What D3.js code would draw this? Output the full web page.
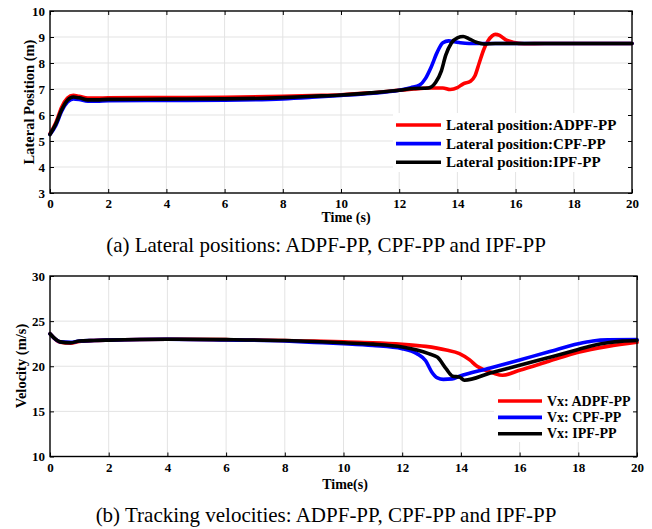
<!DOCTYPE html>
<html><head><meta charset="utf-8">
<script src="https://cdn.jsdelivr.net/npm/d3@7"></script>
<style>
body{margin:0;background:#fff;}
svg{display:block;}
text{font-family:"Liberation Serif","Times New Roman",serif;}
</style></head>
<body><svg id="c" width="652" height="529"></svg>
<script>
// ---------- DATA ----------
const xTicks = [0,2,4,6,8,10,12,14,16,18,20];
const latTicks = [3,4,5,6,7,8,9,10];
const velTicks = [10,15,20,25,30];

const seriesNames = ["ADPF-PP","CPF-PP","IPF-PP"];
const seriesColors = ["#ff0000","#0000ff","#000000"];

// Lateral position (m)
const latT_ADPF = [0,0.2,0.4,0.6,0.8,1.0,1.3,1.6,2,4,6,8,9,10,11,12,12.5,13,13.5,13.75,14,14.2,14.45,14.6,14.75,14.9,15.05,15.2,15.3,15.45,15.65,15.9,16.3,17,20];
const latV_ADPF = [5.28,5.7,6.3,6.65,6.76,6.72,6.65,6.65,6.66,6.67,6.68,6.72,6.75,6.78,6.85,6.95,7.0,7.04,7.04,6.98,7.05,7.2,7.3,7.5,8.0,8.5,8.85,9.05,9.1,9.06,8.9,8.8,8.74,8.75,8.75];
const latT_CPF = [0,0.2,0.4,0.6,0.8,1.0,1.3,1.6,2,4,6,8,9,10,11,12,12.4,12.7,12.9,13.1,13.3,13.5,13.7,13.9,14.1,14.4,15,20];
const latV_CPF = [5.25,5.6,6.15,6.5,6.62,6.6,6.53,6.53,6.55,6.56,6.57,6.62,6.68,6.75,6.83,6.95,7.05,7.15,7.4,7.85,8.4,8.78,8.85,8.82,8.78,8.75,8.75,8.75];
const latT_IPF = [0,0.2,0.4,0.6,0.8,1.0,1.3,1.6,2,4,6,8,9,10,11,12,12.5,13.0,13.25,13.45,13.6,13.8,14.0,14.2,14.4,14.65,14.9,15.3,20];
const latV_IPF = [5.25,5.65,6.2,6.57,6.69,6.66,6.58,6.58,6.6,6.61,6.62,6.67,6.72,6.77,6.85,6.95,7.02,7.04,7.25,7.7,8.3,8.78,8.97,9.02,8.93,8.8,8.73,8.75,8.75];

// Velocity Vx (m/s)
const velT_ADPF = [0,0.35,0.7,1.0,1.5,2,4,6,8,9,10,10.5,11,12,12.8,13.5,13.95,14.3,14.55,14.8,15.1,15.42,16,17,18,19,20];
const velV_ADPF = [23.6,22.65,22.55,22.75,22.85,22.9,23.0,22.95,22.85,22.78,22.7,22.65,22.6,22.43,22.2,21.8,21.4,20.7,20.0,19.6,19.25,19.0,19.55,20.55,21.55,22.2,22.65];
const velT_CPF = [0,0.35,0.7,1.0,1.5,2,4,6,8,9,10,11,12,12.5,12.8,13.0,13.2,13.4,13.7,13.95,15,16,17,18,18.5,19,20];
const velV_CPF = [23.6,22.7,22.65,22.8,22.85,22.9,23.0,22.92,22.8,22.65,22.5,22.3,21.95,21.4,20.6,19.4,18.7,18.55,18.6,18.9,19.8,20.7,21.6,22.5,22.8,22.92,22.95];
const velT_IPF = [0,0.35,0.7,1.0,1.5,2,4,6,8,9,10,11,12,12.5,12.9,13.2,13.5,13.72,13.95,14.12,15,16,17,18,18.5,19,19.5,20];
const velV_IPF = [23.6,22.7,22.6,22.8,22.85,22.9,23.0,22.95,22.85,22.75,22.6,22.45,22.14,21.8,21.4,21.0,19.7,18.9,18.8,18.45,19.25,20.1,20.97,21.85,22.3,22.6,22.78,22.85];

const latLabels = ["Lateral position:ADPF-PP","Lateral position:CPF-PP","Lateral position:IPF-PP"];
const velLabels = ["Vx: ADPF-PP","Vx: CPF-PP","Vx: IPF-PP"];

// ---------- DRAW ----------
const svg = d3.select("#c");
const zip = (t,v)=>t.map((d,i)=>[d,v[i]]);

function panel(o){
  const x = d3.scaleLinear().domain([0,20]).range([o.left,o.right]);
  const y = d3.scaleLinear().domain(o.ydom).range([o.bottom,o.top]);
  const g = svg.append("g");
  // grid
  g.append("g").selectAll("line").data(xTicks.slice(1,-1)).join("line")
    .attr("x1",d=>x(d)).attr("x2",d=>x(d)).attr("y1",o.top).attr("y2",o.bottom)
    .attr("stroke","#e3e3e3").attr("stroke-width",1);
  g.append("g").selectAll("line").data(o.yticks.slice(1,-1)).join("line")
    .attr("y1",d=>y(d)).attr("y2",d=>y(d)).attr("x1",o.left).attr("x2",o.right)
    .attr("stroke","#e3e3e3").attr("stroke-width",1);
  // lines
  const line = d3.line().x(d=>x(d[0])).y(d=>y(d[1])).curve(d3.curveMonotoneX);
  o.series.forEach((s,i)=>{
    g.append("path").datum(s).attr("d",line).attr("fill","none")
      .attr("stroke",seriesColors[i]).attr("stroke-width",3.6)
      .attr("stroke-linejoin","round").attr("stroke-linecap","round");
  });
  // legend
  const lg = g.append("g");
  lg.append("rect").attr("x",o.lg.x0).attr("y",o.lg.y0).attr("width",o.right-1-o.lg.x0)
    .attr("height",o.lg.y1-o.lg.y0).attr("fill","#fff");
  o.labels.forEach((lab,i)=>{
    const yy = o.lg.ly + i*o.lg.dy;
    lg.append("line").attr("x1",o.lg.lx0).attr("x2",o.lg.lx1).attr("y1",yy).attr("y2",yy)
      .attr("stroke",seriesColors[i]).attr("stroke-width",3.6);
    lg.append("text").attr("x",o.lg.tx).attr("y",yy+o.lg.fs*0.33)
      .attr("font-size",o.lg.fs).attr("font-weight","bold").text(lab);
  });
  // axes
  const ax = (gen, tr, showLabels)=>{
    const a = g.append("g").attr("transform",tr).call(gen);
    a.select(".domain").remove();
    a.selectAll(".tick line").attr("stroke","#000").attr("stroke-width",1);
    a.selectAll("text").attr("font-size",13).attr("font-weight","bold")
      .attr("font-family",'"Liberation Serif",serif').attr("fill","#000");
    if(!showLabels) a.selectAll("text").remove();
    return a;
  };
  ax(d3.axisBottom(x).tickValues(xTicks).tickSize(-4).tickPadding(6).tickFormat(d3.format("d")),`translate(0,${o.bottom})`,true);
  ax(d3.axisTop(x).tickValues(xTicks).tickSize(-4),`translate(0,${o.top})`,false);
  ax(d3.axisLeft(y).tickValues(o.yticks).tickSize(-4).tickPadding(5).tickFormat(d3.format("d")),`translate(${o.left},0)`,true);
  ax(d3.axisRight(y).tickValues(o.yticks).tickSize(-4),`translate(${o.right},0)`,false);
  g.append("rect").attr("x",o.left).attr("y",o.top).attr("width",o.right-o.left).attr("height",o.bottom-o.top)
    .attr("fill","none").attr("stroke","#000").attr("stroke-width",1.4);
  // labels
  g.append("text").attr("x",o.xlab.x).attr("y",o.xlab.y).attr("text-anchor","middle")
    .attr("font-size",14).attr("font-weight","bold").text(o.xlab.t);
  g.append("text").attr("transform",`translate(${o.ylab.x},${o.ylab.y}) rotate(-90)`).attr("text-anchor","middle")
    .attr("font-size",14.5).attr("font-weight","bold").text(o.ylab.t);
  g.append("text").attr("x",326).attr("y",o.cap.y).attr("text-anchor","middle")
    .attr("font-size",o.cap.fs).text(o.cap.t);
}

panel({left:50,right:632,top:11,bottom:193,ydom:[3,10],yticks:latTicks,
  series:[zip(latT_ADPF,latV_ADPF),zip(latT_CPF,latV_CPF),zip(latT_IPF,latV_IPF)],
  labels:latLabels,
  lg:{x0:393,y0:113,y1:172,lx0:396,lx1:441,ly:125,dy:18.6,tx:446,fs:15},
  xlab:{x:346,y:222,t:"Time (s)"},
  ylab:{x:34,y:102,t:"Lateral Position (m)"},
  cap:{y:252,fs:21,t:"(a) Lateral positions: ADPF-PP, CPF-PP and IPF-PP"}});

panel({left:50,right:637,top:276,bottom:456.5,ydom:[10,30],yticks:velTicks,
  series:[zip(velT_ADPF,velV_ADPF),zip(velT_CPF,velV_CPF),zip(velT_IPF,velV_IPF)],
  labels:velLabels,
  lg:{x0:494,y0:390,y1:442,lx0:498,lx1:542,ly:401,dy:16.4,tx:547,fs:14},
  xlab:{x:345,y:489,t:"Time(s)"},
  ylab:{x:26,y:366,t:"Velocity (m/s)"},
  cap:{y:522,fs:21,t:"(b) Tracking velocities: ADPF-PP, CPF-PP and IPF-PP"}});
</script>
</body></html>
